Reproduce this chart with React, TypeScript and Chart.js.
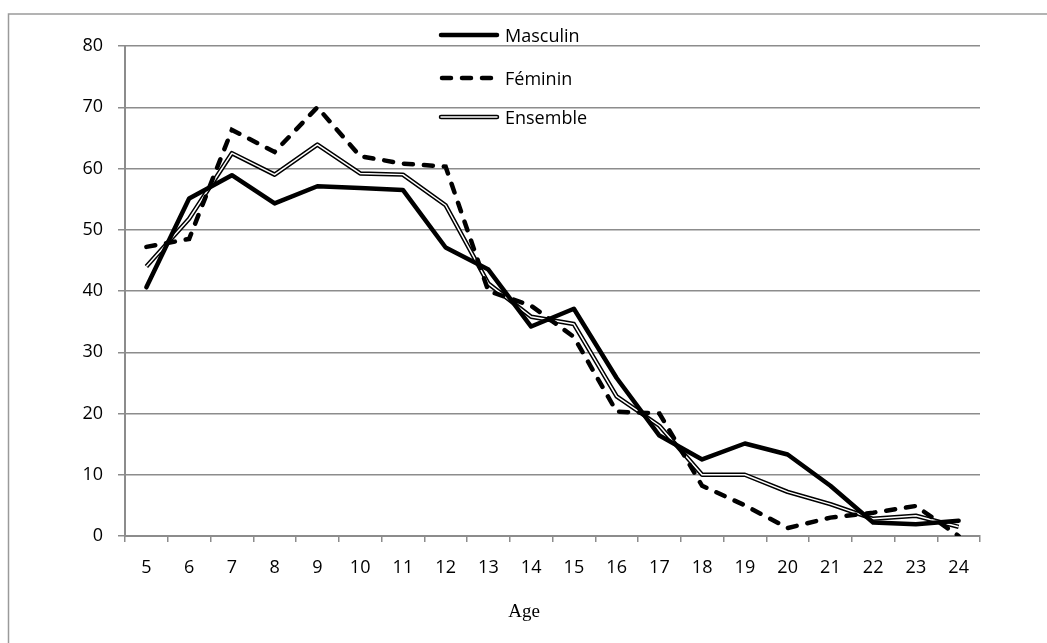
import React, { useEffect, useRef } from "react";
import { Chart, registerables } from "chart.js";

Chart.register(...registerables);

const ages = ["5","6","7","8","9","10","11","12","13","14","15","16","17","18","19","20","21","22","23","24"];
const masculin = [40.6, 55.1, 58.9, 54.3, 57.1, 56.8, 56.5, 47.1, 43.5, 34.2, 37.1, 25.8, 16.4, 12.5, 15.1, 13.3, 8.2, 2.2, 1.9, 2.5];
const feminin = [47.2, 48.5, 66.3, 62.7, 70.0, 62.0, 60.8, 60.3, 40.0, 37.6, 32.5, 20.3, 20.0, 8.2, 5.0, 1.3, 3.0, 3.8, 4.9, 0.0];
const ensemble = [44.0, 51.8, 62.5, 59.0, 63.9, 59.2, 59.0, 54.0, 41.2, 35.8, 34.6, 22.8, 18.0, 10.0, 10.0, 7.2, 5.2, 2.8, 3.3, 1.5];
const seriesNames = ["Masculin", "Féminin", "Ensemble"];
const xTitle = "Age";

const FONT = "'Open Sans', 'Noto Sans', sans-serif";
const GRID = "#8c8c8c";

const framePlugin = {
  id: "frame",
  beforeDraw(chart: any) {
    const ctx = chart.ctx;
    ctx.save();
    ctx.strokeStyle = "#9a9a9a";
    ctx.lineWidth = 1.5;
    ctx.beginPath();
    ctx.moveTo(8.5, chart.height);
    ctx.lineTo(8.5, 14);
    ctx.lineTo(chart.width, 14);
    ctx.stroke();
    ctx.restore();
  },
  afterDraw(chart: any) {
    const ctx = chart.ctx;
    ctx.save();
    const x0 = 441, x1 = 497;
    const ys = [35, 78, 117];
    ctx.lineCap = "round";
    ctx.strokeStyle = "#000";
    ctx.lineWidth = 4.5;
    ctx.beginPath(); ctx.moveTo(x0, ys[0]); ctx.lineTo(x1, ys[0]); ctx.stroke();
    ctx.setLineDash([9, 11]);
    ctx.beginPath(); ctx.moveTo(x0 + 1, ys[1]); ctx.lineTo(x1, ys[1]); ctx.stroke();
    ctx.setLineDash([]);
    ctx.lineWidth = 4.5;
    ctx.beginPath(); ctx.moveTo(x0, ys[2]); ctx.lineTo(x1, ys[2]); ctx.stroke();
    ctx.strokeStyle = "#fff";
    ctx.lineWidth = 1.5;
    ctx.beginPath(); ctx.moveTo(x0, ys[2]); ctx.lineTo(x1, ys[2]); ctx.stroke();
    ctx.fillStyle = "#000";
    ctx.font = `18px ${FONT}`;
    ctx.textAlign = "left";
    ctx.textBaseline = "middle";
    seriesNames.forEach((n, i) => ctx.fillText(n, 505, ys[i] + 2));
    ctx.font = "19px 'Liberation Serif', 'Times New Roman', serif";
    ctx.textAlign = "center";
    ctx.fillText(xTitle, 524, 612);
    ctx.restore();
  },
};

export default function App() {
  const ref = useRef<HTMLCanvasElement>(null);
  useEffect(() => {
    if (!ref.current) return;
    const chart = new Chart(ref.current, {
      type: "line",
      data: {
        labels: ages,
        datasets: [
          { label: seriesNames[0], data: masculin, borderColor: "#000", borderWidth: 4.5, pointRadius: 0, tension: 0, borderJoinStyle: "round", borderCapStyle: "round" },
          { label: seriesNames[1], data: feminin, borderColor: "#000", borderWidth: 4.5, borderDash: [9, 11], borderCapStyle: "round", pointRadius: 0, tension: 0 },
          { label: seriesNames[2] + " inner", data: ensemble, borderColor: "#fff", borderWidth: 1.5, pointRadius: 0, tension: 0, borderJoinStyle: "round" },
          { label: seriesNames[2], data: ensemble, borderColor: "#000", borderWidth: 4.5, pointRadius: 0, tension: 0, borderJoinStyle: "round" },
        ],
      },
      options: {
        responsive: false,
        animation: false,
        layout: { padding: { top: 46, right: 67, left: 0, bottom: 0 } },
        plugins: { legend: { display: false }, tooltip: { enabled: false } },
        scales: {
          x: {
            type: "category",
            offset: true,
            grid: { display: true, offset: true, drawOnChartArea: false, drawTicks: true, tickLength: 6, color: GRID, lineWidth: 1.5 },
            border: { display: true, color: GRID, width: 2 },
            ticks: { color: "#000", font: { family: FONT, size: 18 }, padding: 15, maxRotation: 0, autoSkip: false },
            afterFit: (s: any) => { s.height = 643 - 536; },
          },
          y: {
            min: 0,
            max: 80,
            ticks: { stepSize: 10, color: "#000", font: { family: FONT, size: 18 }, padding: 15 },
            grid: { color: GRID, lineWidth: 1.5, tickLength: 7 },
            border: { display: true, color: GRID, width: 2 },
            afterFit: (s: any) => { s.width = 125; },
          },
        },
      },
      plugins: [framePlugin],
    });
    return () => chart.destroy();
  }, []);
  return (
    <div style={{ position: "absolute", left: 0, top: 0, width: 1047, height: 643, background: "#fff" }}>
      <canvas ref={ref} width={1047} height={643} />
    </div>
  );
}
